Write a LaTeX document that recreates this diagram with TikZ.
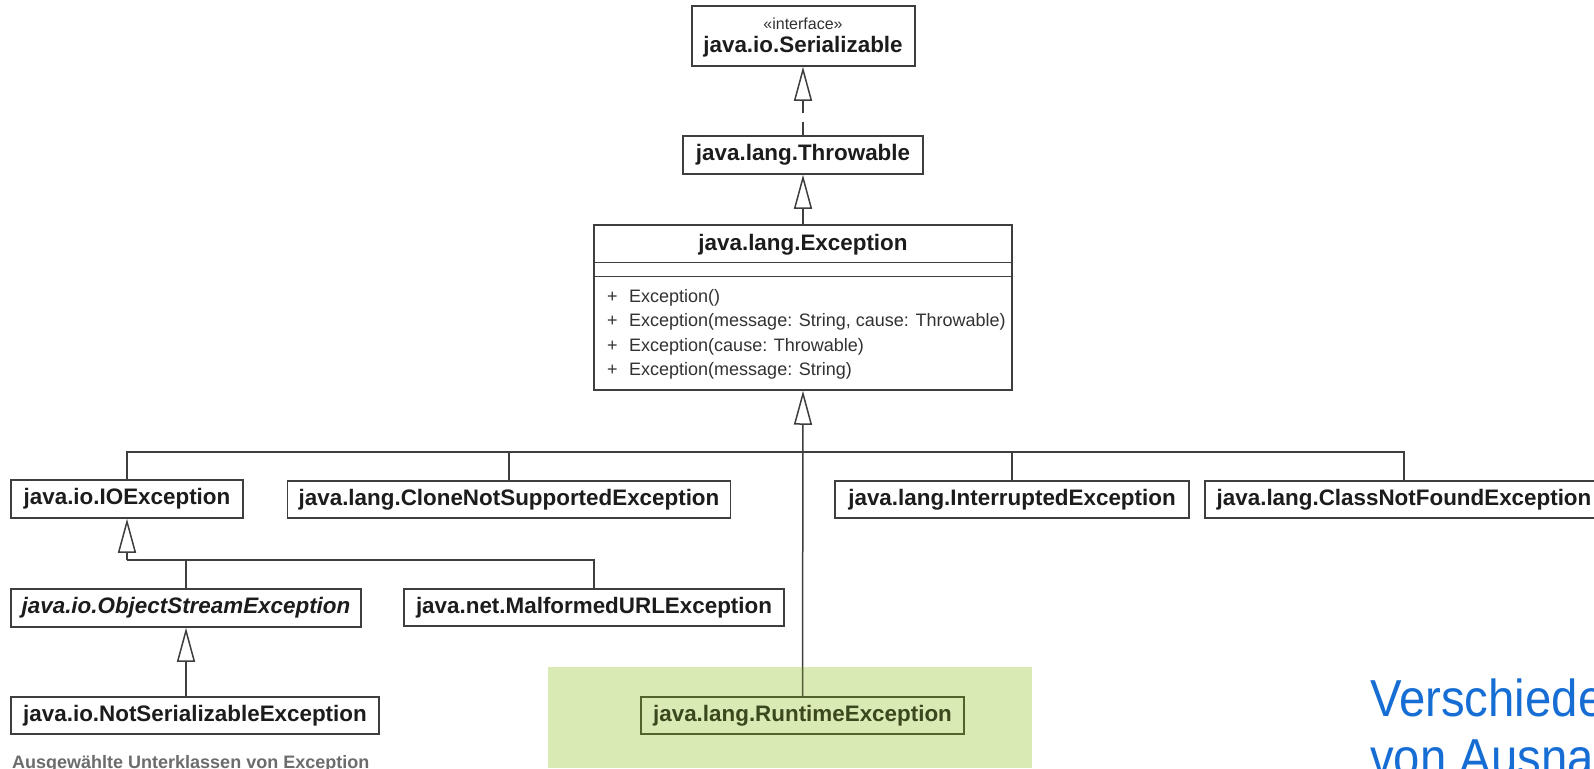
\documentclass[tikz,border=0pt]{standalone}
\usepackage{fontspec}
\setmainfont{Liberation Sans}
\usetikzlibrary{arrows.meta}

\definecolor{ink}{RGB}{28,28,28}
\definecolor{edge}{RGB}{62,62,62}
\definecolor{methink}{RGB}{50,50,50}
\definecolor{hlgreen}{RGB}{218,234,181}
\definecolor{oliveedge}{RGB}{82,100,44}
\definecolor{olivetext}{RGB}{58,72,30}
\definecolor{slideblue}{RGB}{22,110,212}
\definecolor{capgray}{RGB}{108,108,108}

\begin{document}
\begin{tikzpicture}[x=1pt,y=-1pt,
  cls/.style={draw=edge, line width=1.5pt, fill=white, inner sep=0pt, text=ink,
              font=\fontsize{22.4}{26}\selectfont\bfseries},
  plain/.style={inner sep=0pt, text=ink},
  meth/.style={inner sep=0pt, anchor=base west, text=methink,
               font=\fontsize{18}{22}\selectfont},
  link/.style={draw=edge, line width=1.5pt},
  gen/.style={link, -{Triangle[length=34pt,width=18pt,fill=white]}},
  realize/.style={gen, dash pattern=on 13pt off 9pt}
]
\useasboundingbox (0,0) rectangle (1594,768);
\clip (0,0) rectangle (1594,768);

% highlight behind RuntimeException
\node[fill=hlgreen, inner sep=0pt, minimum width=484pt, minimum height=101pt,
      anchor=north west] (hl) at (548,667) {};

% interface and root classes
\node[cls, minimum width=223pt, minimum height=60pt] (ser) at (803.5,36) {};
\node[plain, font=\fontsize{16}{18}\selectfont, text=methink] (serst) at (803,24) {«interface»};
\node[plain, font=\fontsize{22.4}{26}\selectfont\bfseries] (sern) at (803,47) {java.io.Serializable};

\node[cls, minimum width=240pt, minimum height=38pt] (thr) at (803,155) {java.lang.Throwable};

\node[cls, minimum width=418pt, minimum height=165pt] (exc) at (803,307.5) {};
\node[plain, font=\fontsize{22.4}{26}\selectfont\bfseries] (exct) at (803,244.5) {java.lang.Exception};
\draw[link] ([yshift=-38pt]exc.north west) -- ([yshift=-38pt]exc.north east);
\draw[link] ([yshift=-52pt]exc.north west) -- ([yshift=-52pt]exc.north east);
\node[meth] (m1) at (607,302) {\makebox[22pt][l]{+}Exception()};
\node[meth] (m2) at (607,326.5) {\makebox[22pt][l]{+}Exception(message: String, cause: Throwable)};
\node[meth] (m3) at (607,351) {\makebox[22pt][l]{+}Exception(cause: Throwable)};
\node[meth] (m4) at (607,375) {\makebox[22pt][l]{+}Exception(message: String)};

% direct subclasses of Exception
\node[cls, minimum width=232pt, minimum height=38pt] (io) at (127,499) {java.io.IOException};
\node[cls, minimum width=443pt, minimum height=37pt] (clone) at (509,499.5) {java.lang.CloneNotSupportedException};
\node[cls, minimum width=354pt, minimum height=37pt] (intr) at (1012,499.5) {java.lang.InterruptedException};
\node[cls, minimum width=398pt, minimum height=37pt] (cnf) at (1404,499.5) {java.lang.ClassNotFoundException};

% subclasses of IOException
\node[cls, minimum width=350pt, minimum height=38pt, font=\fontsize{22.4}{26}\selectfont\bfseries\itshape]
      (ose) at (186,608) {java.io.ObjectStreamException};
\node[cls, minimum width=380pt, minimum height=37pt] (mal) at (594,607.5) {java.net.MalformedURLException};
\node[cls, minimum width=368pt, minimum height=37pt] (nse) at (195,715.5) {java.io.NotSerializableException};

% RuntimeException on the highlight
\node[cls, fill=none, draw=oliveedge, text=olivetext, minimum width=323pt, minimum height=37pt]
      (rte) at (802.5,715.5) {java.lang.RuntimeException};

% generalisation and realisation arrows
\coordinate (bus) at (803,452);
\coordinate (iobus) at (127,560);

\draw[realize] (thr.north) -- (thr.north |- ser.south);
\draw[gen] (exc.north) -- (thr.south);

\draw[link] (io.north) |- (bus) -| (cnf.north);
\draw[link] (clone.north) -- (clone.north |- bus);
\draw[link] (intr.north) -- (intr.north |- bus);
\draw[gen] (rte.north) -- (exc.south);
\draw[link, draw=oliveedge] (rte.north) -- (rte.north |- hl.north);

\draw[gen] (iobus) -- (io.south);
\draw[link] (ose.north) |- (iobus) -| (mal.north);
\draw[gen] (ose.south |- nse.north) -- (ose.south);

% caption and slide title
\node[anchor=base west, inner sep=0pt, text=capgray, font=\fontsize{18}{20}\selectfont\bfseries]
      (cap) at (12,768.5) {Ausgewählte Unterklassen von Exception};
\node[anchor=base west, inner sep=0pt, text=slideblue, font=\fontsize{52}{59}\selectfont]
      (t1) at (1370,716) {\scalebox{0.91}[1]{Verschiedene}};
\node[anchor=base west, inner sep=0pt, text=slideblue, font=\fontsize{52}{59}\selectfont]
      (t2) at (1370,775) {\scalebox{0.91}[1]{von Ausnahmen}};
\end{tikzpicture}
\end{document}
